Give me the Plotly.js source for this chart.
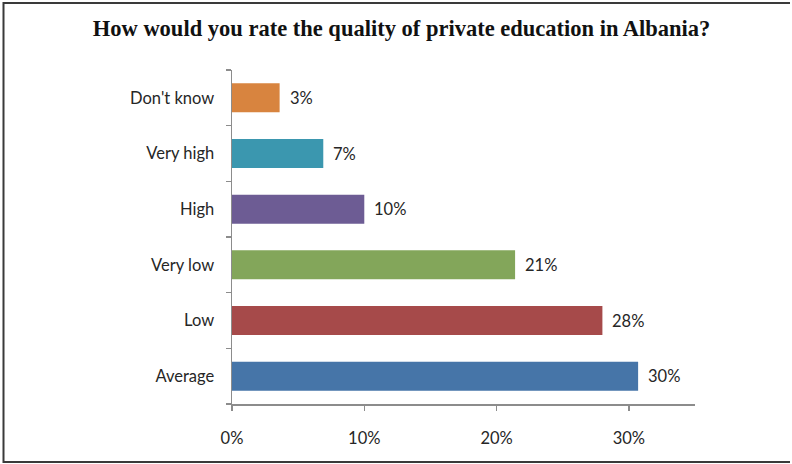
<!DOCTYPE html>
<html>
<head>
<meta charset="utf-8">
<script src="https://cdn.plot.ly/plotly-3.0.1.min.js"></script>
<style>html,body{margin:0;padding:0;background:#fff;}#chart{width:792px;height:464px;}</style>
</head>
<body>
<div id="chart"></div>
<script>
const categories = ["Average", "Low", "Very low", "High", "Very high", "Don't know"];
const values = [30.7, 28.0, 21.4, 10.0, 6.9, 3.6];
const valueLabels = ["30%", "28%", "21%", "10%", "7%", "3%"];
const barColors = ["#4675A8", "#A64A4A", "#83A65A", "#6D5C94", "#3B97AF", "#D8843F"];
const xTickVals = [0, 10, 20, 30];
const xTickText = ["0%", "10%", "20%", "30%"];

const labelFont = {family: "Lato, 'Open Sans', sans-serif", size: 16.5, color: "#262626"};

const trace = {
  type: "bar",
  orientation: "h",
  x: values,
  y: categories,
  marker: {color: barColors, line: {width: 0}},
  hoverinfo: "none"
};

const annotations = values.map((v, i) => ({
  x: v, y: categories[i], xref: "x", yref: "y",
  text: valueLabels[i], showarrow: false,
  xanchor: "left", yanchor: "middle", xshift: 8,
  font: labelFont
}));

const W = 792, H = 464;
const M = {l: 232, r: 97, t: 70, b: 60};
const pw = W - M.l - M.r, ph = H - M.t - M.b;
function px(x) { return (x - M.l) / pw; }
function py(y) { return (H - M.b - y) / ph; }

const layout = {
  width: W, height: H,
  margin: M,
  paper_bgcolor: "#fff", plot_bgcolor: "#fff",
  showlegend: false,
  bargap: 0.48,
  title: {
    text: "<b>How would you rate the quality of private education in Albania?</b>",
    font: {family: "'Liberation Serif', 'Times New Roman', serif", size: 22.5, color: "#111"},
    x: 0.507, xanchor: "center", y: 0.94, yanchor: "middle"
  },
  xaxis: {
    range: [0, 35], tickvals: xTickVals, ticktext: xTickText,
    showgrid: false, zeroline: false,
    showline: true, linecolor: "#8c8c8c", linewidth: 1.5,
    ticks: "outside", ticklen: 5, tickcolor: "#8c8c8c", tickwidth: 1.5,
    ticklabelstandoff: 14,
    tickfont: labelFont, fixedrange: true
  },
  yaxis: {
    type: "category", categoryorder: "array", categoryarray: categories,
    showgrid: false, zeroline: false,
    showline: true, linecolor: "#8c8c8c", linewidth: 1.5,
    ticks: "outside", ticklen: 5, tickcolor: "#8c8c8c", tickwidth: 1.5,
    tickson: "boundaries", ticklabelstandoff: 13,
    tickfont: labelFont, fixedrange: true
  },
  annotations: annotations,
  shapes: [
    {type: "path", xref: "paper", yref: "paper", layer: "above",
     path: `M ${px(790)} ${py(3)} L ${px(3.5)} ${py(3)} L ${px(3.5)} ${py(462)} L ${px(790)} ${py(462)}`,
     line: {color: "#3a3a3a", width: 2}}
  ]
};

Plotly.newPlot("chart", [trace], layout, {staticPlot: true, displayModeBar: false});
</script>
</body>
</html>
